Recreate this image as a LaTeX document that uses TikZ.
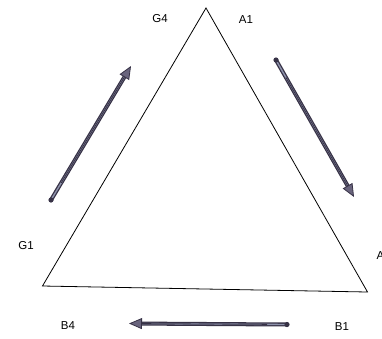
\documentclass[tikz,border=0pt]{standalone}
\usepackage{fontspec}
\setmainfont{Liberation Sans}
\usetikzlibrary{arrows.meta}
\definecolor{arrdark}{RGB}{55,50,70}
\definecolor{arrlight}{RGB}{140,145,170}
\definecolor{arrhead}{RGB}{105,100,125}
\tikzset{
  lbl/.style={font=\fontsize{11.5}{13}\selectfont, inner sep=0pt},
  tri/.style={draw=black, line width=0.8pt, line join=miter},
  body/.style={draw=arrdark, line width=4pt, shorten >=10pt},
  core/.style={draw=arrlight, line width=1.4pt, shorten >=10pt, shorten <=2pt},
  headtip/.style={draw=arrdark, line width=0.8pt, -{Triangle[length=13pt,width=11pt,fill=arrhead]}, shorten <=20pt},
}
\newcommand{\fatarrow}[2]{%
  \draw[body] (#1) -- (#2);
  \draw[core] (#1) -- (#2);
  \draw[headtip] (#1) -- (#2);
  \fill[arrdark] (#1) circle (2.6pt);
}
\begin{document}
\begin{tikzpicture}[x=1pt,y=-1pt]
\useasboundingbox (0,0) rectangle (382,338);
\fill[white] (0,0) rectangle (382,338);
% triangle
\coordinate (top) at (206,8);
\coordinate (bl) at (42.5,286);
\coordinate (br) at (367.5,292);
\draw[tri] (top) -- (bl) -- (br) -- cycle;
% labels
\node[lbl] (g4) at (160,19) {G4};
\node[lbl] (a1) at (246,20) {A1};
\node[lbl] (g1) at (26,246) {G1};
\node[lbl, anchor=west] (a4) at (376.5,256) {A};
\node[lbl] (b4) at (68,326) {B4};
\node[lbl] (b1) at (342,327) {B1};
% arrows
\coordinate (lt) at (51,200);
\coordinate (lh) at (131,66);
\coordinate (rt) at (276,60);
\coordinate (rh) at (354,197);
\coordinate (bt) at (287,324.5);
\coordinate (bh) at (129,323.5);
\fatarrow{lt}{lh}
\fatarrow{rt}{rh}
\fatarrow{bt}{bh}
\end{tikzpicture}
\end{document}
